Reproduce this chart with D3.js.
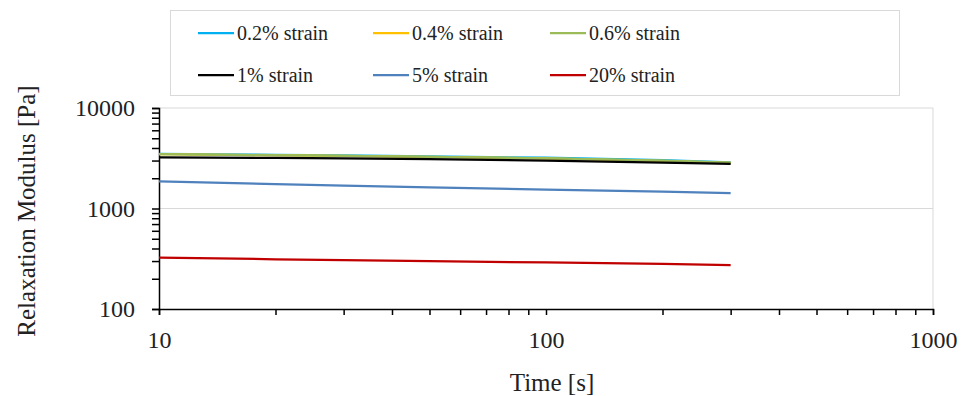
<!DOCTYPE html>
<html>
<head>
<meta charset="utf-8">
<script src="https://cdn.jsdelivr.net/npm/d3@7"></script>
<style>
  html, body { margin: 0; padding: 0; background: #fff; }
  svg { display: block; }
</style>
</head>
<body>
<svg id="chart" width="962" height="396"></svg>
<script>
// ---- data ----
const times = [10, 20, 30, 50, 100, 200, 300];
const seriesNames = ["0.2% strain", "0.4% strain", "0.6% strain", "1% strain", "5% strain", "20% strain"];
const seriesColors = ["#00B0F0", "#FFC000", "#9BBB59", "#000000", "#4F81BD", "#C00000"];
const strain02 = [3500, 3420, 3370, 3300, 3200, 3030, 2880];
const strain04 = [3480, 3390, 3330, 3260, 3150, 2980, 2850];
const strain06 = [3485, 3391, 3338, 3268, 3159, 2990, 2862];
const strain1  = [3232, 3181, 3145, 3102, 2997, 2862, 2772];
const strain5  = [1864, 1744, 1689, 1622, 1542, 1470, 1426];
const strain20 = [324, 312.6, 306.6, 298.9, 290.2, 280.4, 274];
const xTicks = [10, 100, 1000];
const yTicks = [100, 1000, 10000];

const seriesValues = [strain02, strain04, strain06, strain1, strain5, strain20];

const FONT = "'Liberation Serif', 'Times New Roman', serif";

// ---- layout ----
const svg = d3.select("#chart");
const L = 159, R = 933, T = 108, B = 309;
const x = d3.scaleLog().domain([10, 1000]).range([L, R]);
const y = d3.scaleLog().domain([100, 10000]).range([B, T]);

// gridlines
const grid = svg.append("g");
grid.selectAll("line.h").data([1000, 10000]).enter().append("line")
  .attr("x1", L).attr("x2", R)
  .attr("y1", d => y(d)).attr("y2", d => y(d))
  .attr("stroke", "#D9D9D9").attr("stroke-width", 1);
grid.append("line")
  .attr("x1", x(1000)).attr("x2", x(1000))
  .attr("y1", T).attr("y2", B)
  .attr("stroke", "#D9D9D9").attr("stroke-width", 1);

function logTicks(lo, hi) {
  const out = [];
  for (let d = lo; d < hi; d *= 10) for (let k = 1; k <= 9; k++) out.push(d * k);
  out.push(hi);
  return out;
}

const yAxis = d3.axisLeft(y).tickValues(logTicks(100, 10000)).tickSize(7)
  .tickFormat(d => yTicks.includes(d) ? String(d) : "");
const gy = svg.append("g").attr("transform", `translate(${L},0)`).call(yAxis);
gy.attr("font-family", null).attr("font-size", null);
gy.select(".domain").attr("stroke", "#000").attr("stroke-width", 1.5);
gy.selectAll(".tick line").attr("stroke", "#000").attr("stroke-width", 1.5);
gy.selectAll(".tick text").attr("x", -24)
  .style("font-family", FONT).style("font-size", "24px").attr("fill", "#222");

const xAxis = d3.axisBottom(x).tickValues(logTicks(10, 1000)).tickSize(6)
  .tickFormat(d => xTicks.includes(d) ? String(d) : "");
const gx = svg.append("g").attr("transform", `translate(0,${B})`).call(xAxis);
gx.attr("font-family", null).attr("font-size", null);
gx.select(".domain").attr("stroke", "#000").attr("stroke-width", 1.5);
gx.selectAll(".tick line").attr("stroke", "#000").attr("stroke-width", 1.5);
gx.selectAll(".tick text").attr("y", 22)
  .style("font-family", FONT).style("font-size", "24px").attr("fill", "#222");

// lines
const line = d3.line().x(d => x(d[0])).y(d => y(d[1]));
seriesValues.forEach((vals, i) => {
  svg.append("path")
    .datum(times.map((t, j) => [t, vals[j]]))
    .attr("d", line)
    .attr("fill", "none")
    .attr("stroke", seriesColors[i])
    .attr("stroke-width", 2.25)
    .attr("stroke-linejoin", "round");
});

// axis titles
svg.append("text").attr("x", (L + R) / 2 + 6).attr("y", 391)
  .attr("text-anchor", "middle")
  .style("font-family", FONT).style("font-size", "25px").attr("fill", "#222")
  .text("Time [s]");
svg.append("text")
  .attr("transform", `translate(35,${211}) rotate(-90)`)
  .attr("text-anchor", "middle")
  .style("font-family", FONT).style("font-size", "25px").attr("fill", "#222")
  .text("Relaxation Modulus [Pa]");

// legend
const lg = svg.append("g");
lg.append("rect").attr("x", 170.5).attr("y", 10.5).attr("width", 729).attr("height", 85)
  .attr("fill", "#fff").attr("stroke", "#D9D9D9").attr("stroke-width", 1);
const colX = [198, 373, 550];
const rowY = [33, 75];
seriesNames.forEach((name, i) => {
  const cx = colX[i % 3], cy = rowY[Math.floor(i / 3)];
  lg.append("line").attr("x1", cx).attr("x2", cx + 36).attr("y1", cy).attr("y2", cy)
    .attr("stroke", seriesColors[i]).attr("stroke-width", 2.25);
  lg.append("text").attr("x", cx + 39).attr("y", cy + 7)
    .style("font-family", FONT).style("font-size", "20px").attr("fill", "#222")
    .text(name);
});
</script>
</body>
</html>
